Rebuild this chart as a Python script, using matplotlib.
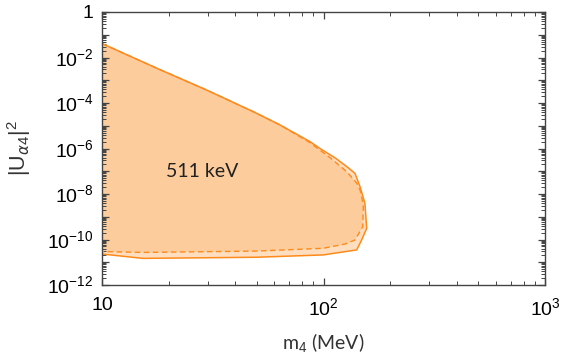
import numpy as np
import matplotlib
matplotlib.use("Agg")
import matplotlib.pyplot as plt
from matplotlib.ticker import LogLocator, FuncFormatter, NullFormatter

# Outer (solid) exclusion contour: m4 in MeV, |U|^2
solid_m = [10.0, 17.7, 29.7, 48.2, 63.7, 86.9, 96.4, 112.7, 127.4, 138.7,
           146.2, 153.8, 156.7, 148.6, 141.3, 99.8, 49.9, 15.3, 10.0]
solid_u = [4.1e-2, 3.35e-3, 3.7e-4, 4.15e-5, 1.08e-5, 2.0e-6, 1.0e-6, 3.9e-7,
           1.6e-7, 8.1e-8, 2.1e-8, 3.9e-9, 3.1e-10, 9.5e-11, 3.5e-11, 2.1e-11,
           1.66e-11, 1.48e-11, 2.3e-11]

# Inner (dashed) contour
dash_m = [10.0, 17.7, 29.7, 48.2, 63.7, 86.9, 106.9, 127.4, 141.3, 146.2,
          151.4, 150.3, 138.7, 125.0, 99.5, 49.9, 15.3, 10.0]
dash_u = [4.1e-2, 3.35e-3, 3.7e-4, 4.15e-5, 1.08e-5, 1.8e-6, 4.0e-7, 9.5e-8,
          3.0e-8, 1.5e-8, 3.3e-9, 3.6e-10, 9.5e-11, 6.3e-11, 4.1e-11,
          3.1e-11, 2.7e-11, 2.95e-11]

label_text = "511 keV"

plt.rcParams["mathtext.fontset"] = "custom"
plt.rcParams["mathtext.rm"] = "Liberation Sans"
plt.rcParams["mathtext.it"] = "DejaVu Sans:italic"
plt.rcParams["font.family"] = ["Liberation Sans", "DejaVu Sans"]

line_col = "#FF8A1C"
fig = plt.figure(figsize=(5.61, 3.6), dpi=100)
ax = fig.add_axes([102 / 561, 75 / 360, 443 / 561, 273 / 360])

ax.fill(solid_m, solid_u, color="#FEDEBE", lw=0)
ax.fill(dash_m, dash_u, color="#FDCC9C", lw=0)
ax.plot(solid_m, solid_u, color=line_col, lw=1.1)
ax.plot(dash_m, dash_u, color=line_col, lw=1.0, ls=(0, (4, 2.5)))

ax.set_xscale("log")
ax.set_yscale("log")
ax.set_xlim(10, 1000)
ax.set_ylim(1e-12, 1)

ax.xaxis.set_major_locator(LogLocator(base=10, numticks=10))
ax.xaxis.set_minor_locator(LogLocator(base=10, subs=np.arange(2, 10), numticks=20))
ax.xaxis.set_minor_formatter(NullFormatter())


def xfmt(v, pos):
    if abs(v - 10) < 1e-6:
        return "10"
    return r"$10^{%d}$" % round(np.log10(v))


def yfmt(v, pos):
    e = round(np.log10(v))
    if e % 2:
        return ""
    if e == 0:
        return "1"
    return r"$10^{%d}$" % e


ax.xaxis.set_major_formatter(FuncFormatter(xfmt))
ax.yaxis.set_major_locator(LogLocator(base=10, numticks=20))
ax.yaxis.set_major_formatter(FuncFormatter(yfmt))
ax.yaxis.set_minor_locator(LogLocator(base=10, subs=np.arange(2, 10), numticks=40))
ax.yaxis.set_minor_formatter(NullFormatter())

ax.tick_params(which="both", direction="in", top=True, right=True,
               color="#444444", labelsize=14, labelcolor="black")
ax.tick_params(which="major", length=5, width=0.9, pad=6)
ax.tick_params(axis="x", which="major", pad=9)
ax.tick_params(which="minor", length=3, width=0.7)
for s in ax.spines.values():
    s.set_color("#444444")
    s.set_linewidth(1.0)

ax.text(19.5, 9.3e-8, label_text, fontsize=14, family=["Lato", "DejaVu Sans"],
        color="#222222", va="center", ha="left")
ax.set_xlabel(r"m$_4$ (MeV)", fontsize=14, family=["Lato", "DejaVu Sans"],
              color="#333333", labelpad=8)
ax.set_ylabel(r"$|\mathrm{U}_{\alpha 4}|^2$", fontsize=15.5, color="#333333",
              labelpad=10)

fig.savefig("out.png", dpi=100)
